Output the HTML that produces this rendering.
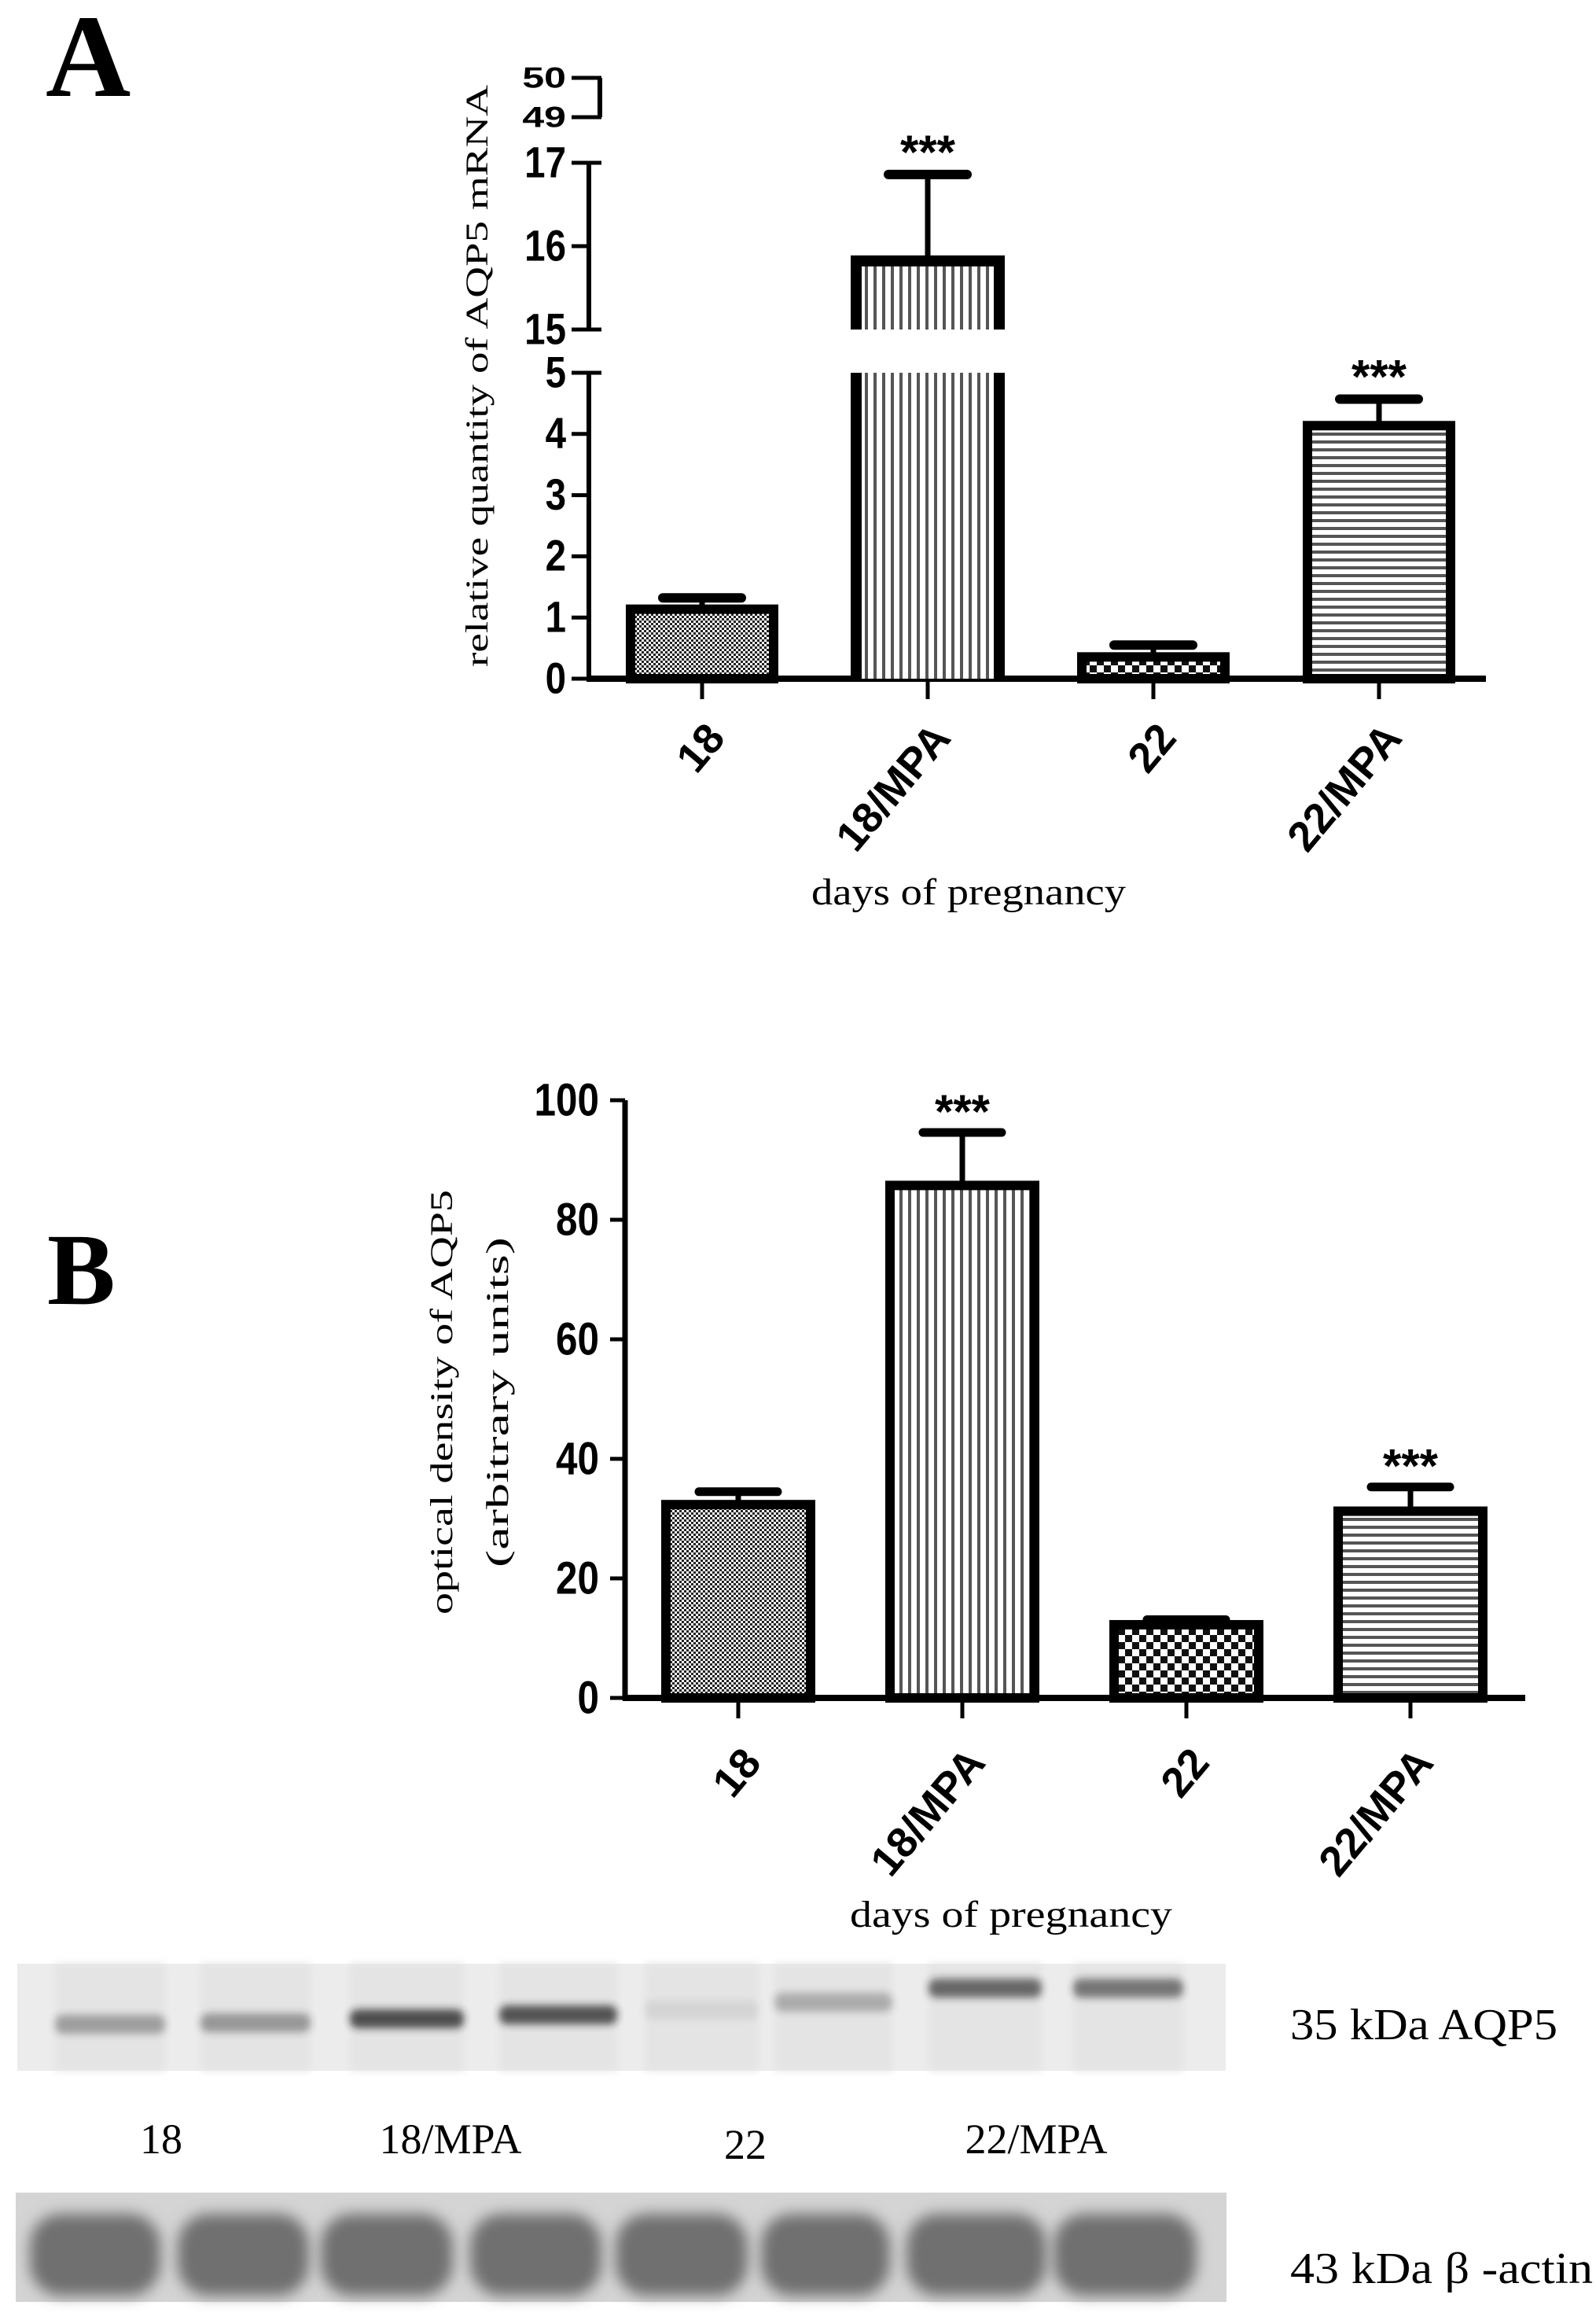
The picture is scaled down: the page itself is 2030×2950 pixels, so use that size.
<!DOCTYPE html>
<html><head><meta charset="utf-8"><style>
html,body{margin:0;padding:0;background:#fff}
svg{display:block}
</style></head><body>
<svg id="fig" width="2030" height="2950" viewBox="0 0 2030 2950" xmlns="http://www.w3.org/2000/svg">
<defs>
<pattern id="pFine" width="6" height="6" patternUnits="userSpaceOnUse"><rect width="6" height="6" fill="#fff"/><rect width="3" height="3" fill="#222"/><rect x="3" y="3" width="3" height="3" fill="#222"/></pattern>
<pattern id="pVert" width="11" height="10" patternUnits="userSpaceOnUse"><rect width="11" height="10" fill="#fff"/><rect width="4" height="10" fill="#555"/></pattern>
<pattern id="pCheck" width="18" height="18" patternUnits="userSpaceOnUse"><rect width="18" height="18" fill="#fff"/><rect width="9" height="9" fill="#111"/><rect x="9" y="9" width="9" height="9" fill="#111"/></pattern>
<pattern id="pHorz" width="10" height="10" patternUnits="userSpaceOnUse"><rect width="10" height="10" fill="#fff"/><rect width="10" height="4" fill="#555"/></pattern>
<filter id="blur4" x="-20%" y="-50%" width="140%" height="200%"><feGaussianBlur stdDeviation="5"/></filter>
<filter id="blur8" x="-20%" y="-30%" width="140%" height="160%"><feGaussianBlur stdDeviation="9"/></filter>
</defs>
<text x="58" y="122" font-family="Liberation Serif, serif" font-weight="bold" font-size="150">A</text>
<text x="60" y="1658" font-family="Liberation Serif, serif" font-weight="bold" font-size="130">B</text>
<g id="chartA"></g>
<g id="chartB"></g>
<g id="blot"></g>
</svg>
<script>
const categories = ["18", "18/MPA", "22", "22/MPA"];
const mrnaValues = [1.2, 15.87, 0.42, 4.2];
const mrnaErrors = [1.32, 16.86, 0.55, 4.57];
const mrnaSig = ["", "***", "", "***"];
const mrnaLowTicks = [0, 1, 2, 3, 4, 5];
const mrnaMidTicks = [15, 16, 17];
const mrnaHighTicks = [49, 50];
const odValues = [33, 86.4, 12.9, 31.9];
const odErrors = [34.5, 94.6, 13.1, 35.3];
const odSig = ["", "***", "", "***"];
const odTicks = [0, 20, 40, 60, 80, 100];

const NS = "http://www.w3.org/2000/svg";
function mk(parent, tag, attrs, text) {
  const e = document.createElementNS(NS, tag);
  for (const k in attrs) e.setAttribute(k, attrs[k]);
  if (text !== undefined) e.textContent = text;
  parent.appendChild(e);
  return e;
}
const patterns = ["url(#pFine)", "url(#pVert)", "url(#pCheck)", "url(#pHorz)"];
const numFont = "Liberation Sans, Arial, sans-serif";
const serif = "Liberation Serif, serif";

/* ---------- Chart A (broken axis) ---------- */
(function () {
  const g = document.getElementById("chartA");
  const ax = 749, base = 863;
  const segLow = { v0: 0, v1: 5, y0: 863, y1: 474 };
  const segMid = { v0: 15, v1: 17, y0: 419, y1: 207 };
  const segHigh = { v0: 49, v1: 50, y0: 149, y1: 99 };
  const lin = (s, v) => s.y0 + (v - s.v0) * (s.y1 - s.y0) / (s.v1 - s.v0);
  function yA(v) {
    if (v <= 5) return lin(segLow, v);
    if (v <= 17) return lin(segMid, Math.max(v, 15));
    return lin(segHigh, v);
  }
  const x0 = 795, step = 287, bw = 196;
  const xc = i => x0 + bw / 2 + i * step;
  let e;
  e = mk(g, "line", { x1: ax, y1: lin(segLow, 5), x2: ax, y2: base + 3, stroke: "#000", "stroke-width": 6 });
  
  
  e = mk(g, "line", { x1: ax, y1: lin(segMid, 17), x2: ax, y2: lin(segMid, 15), stroke: "#000", "stroke-width": 6 });
  
  
  e = mk(g, "line", { x1: ax + 14, y1: lin(segHigh, 50), x2: ax + 14, y2: lin(segHigh, 49), stroke: "#000", "stroke-width": 6 });
  
  
  e = mk(g, "line", { x1: ax - 3, y1: base, x2: 1890, y2: base, stroke: "#000", "stroke-width": 8 });
  
  
  function tick(v, s, right, squish) {
    const y = lin(s, v);
    const t = mk(g, "line", { x1: 727, y1: y, x2: right, y2: y, stroke: "#000", "stroke-width": 5 });
    
    
    const tr = squish ? `translate(720 ${y}) scale(1 0.75) translate(-720 ${-y})` : `translate(720 ${y}) scale(0.95 1.12) translate(-720 ${-y})`;
    const lab = mk(g, "text", { x: 720, y: y, "font-family": numFont, "font-weight": "bold", "font-size": 50, "text-anchor": "end", "dominant-baseline": "central", transform: tr }, String(v));
    
    
  }
  mrnaLowTicks.forEach(v => tick(v, segLow, v === 5 ? 765 : ax, false));
  mrnaMidTicks.forEach(v => tick(v, segMid, v === 16 ? ax : 765, false));
  mrnaHighTicks.forEach(v => tick(v, segHigh, 765, true));
  categories.forEach((c, i) => {
    const xl = x0 + i * step;
    const v = mrnaValues[i];
    const yt = yA(v);
    if (v > 5) {
      let r = mk(g, "rect", { x: xl + 7, y: lin(segLow, 5), width: bw - 14, height: base - lin(segLow, 5), fill: patterns[i] });
      
      
      mk(g, "line", { x1: xl + 7, y1: lin(segLow, 5), x2: xl + 7, y2: base, stroke: "#000", "stroke-width": 14 });
      mk(g, "line", { x1: xl + bw - 7, y1: lin(segLow, 5), x2: xl + bw - 7, y2: base, stroke: "#000", "stroke-width": 14 });
      r = mk(g, "rect", { x: xl + 7, y: yt + 5, width: bw - 14, height: lin(segMid, 15) - yt - 5, fill: patterns[i] });
      
      
      mk(g, "path", { d: `M${xl + 7} ${lin(segMid, 15)} V${yt + 5} H${xl + bw - 7} V${lin(segMid, 15)}`, stroke: "#000", "stroke-width": 14, fill: "none", "stroke-linejoin": "miter" });
    } else {
      const r = mk(g, "rect", { x: xl + 7, y: yt + 5, width: bw - 14, height: base - yt - 5, fill: patterns[i], stroke: "#000", "stroke-width": 12 });
      
      
    }
    const ye = yA(mrnaErrors[i]);
    const el = mk(g, "line", { x1: xc(i), y1: ye, x2: xc(i), y2: yt, stroke: "#000", "stroke-width": 7 });
    
    
    const cap = mk(g, "line", { x1: xc(i) - 50, y1: ye, x2: xc(i) + 50, y2: ye, stroke: "#000", "stroke-width": 12, "stroke-linecap": "round" });
    
    
    if (mrnaSig[i]) {
      const s = mk(g, "text", { x: xc(i), y: ye - 8, "font-family": numFont, "font-weight": "bold", "font-size": 60, "text-anchor": "middle" }, mrnaSig[i]);
      
      
    }
    const tk = mk(g, "line", { x1: xc(i), y1: base, x2: xc(i), y2: base + 26, stroke: "#000", "stroke-width": 5 });
    
    
    const lx = xc(i) + 2;
    const lab = mk(g, "text", { x: lx, y: 915, "font-family": numFont, "font-weight": "bold", "font-size": 54, "text-anchor": "end", transform: `rotate(-50 ${lx} 915)`, "dominant-baseline": "hanging" }, c);
    
    
  });
  let t = mk(g, "text", { x: 1232, y: 1150, "font-family": serif, "font-size": 48, "text-anchor": "middle", textLength: 400, lengthAdjust: "spacingAndGlyphs" }, "days of pregnancy");
  
  
  t = mk(g, "text", { x: 620, y: 478, "font-family": serif, "font-size": 40, "text-anchor": "middle", transform: "rotate(-90 620 478)", textLength: 740, lengthAdjust: "spacingAndGlyphs" }, "relative quantity of AQP5 mRNA");
  
  
})();

/* ---------- Chart B ---------- */
(function () {
  const g = document.getElementById("chartB");
  const ax = 795, base = 2159, top = 1399;
  const yB = v => base + (top - base) * v / 100;
  const x0 = 840, step = 285, bw = 198;
  const xc = i => x0 + bw / 2 + i * step;
  let e = mk(g, "line", { x1: ax, y1: top, x2: ax, y2: base + 3, stroke: "#000", "stroke-width": 7 });
  
  
  e = mk(g, "line", { x1: ax - 3, y1: base, x2: 1940, y2: base, stroke: "#000", "stroke-width": 8 });
  
  
  odTicks.forEach(v => {
    const y = yB(v);
    const t = mk(g, "line", { x1: 776, y1: y, x2: ax, y2: y, stroke: "#000", "stroke-width": 5 });
    
    
    const lab = mk(g, "text", { x: 762, y: y, "font-family": numFont, "font-weight": "bold", "font-size": 52, "text-anchor": "end", "dominant-baseline": "central", transform: `translate(762 ${y}) scale(0.95 1.12) translate(-762 ${-y})` }, String(v));
    
    
  });
  categories.forEach((c, i) => {
    const xl = x0 + i * step;
    const yt = yB(odValues[i]);
    const r = mk(g, "rect", { x: xl + 7, y: yt + 5, width: bw - 14, height: base - yt - 5, fill: patterns[i], stroke: "#000", "stroke-width": 12 });
    
    
    const ye = yB(odErrors[i]);
    const el = mk(g, "line", { x1: xc(i), y1: ye, x2: xc(i), y2: yt, stroke: "#000", "stroke-width": 7 });
    
    
    const cap = mk(g, "line", { x1: xc(i) - 50, y1: ye, x2: xc(i) + 50, y2: ye, stroke: "#000", "stroke-width": 11, "stroke-linecap": "round" });
    
    
    if (odSig[i]) {
      const s = mk(g, "text", { x: xc(i), y: ye - 6, "font-family": numFont, "font-weight": "bold", "font-size": 60, "text-anchor": "middle" }, odSig[i]);
      
      
    }
    const tk = mk(g, "line", { x1: xc(i), y1: base, x2: xc(i), y2: base + 26, stroke: "#000", "stroke-width": 5 });
    
    
    const lx = xc(i) + 2;
    const lab = mk(g, "text", { x: lx, y: 2218, "font-family": numFont, "font-weight": "bold", "font-size": 54, "text-anchor": "end", transform: `rotate(-50 ${lx} 2218)`, "dominant-baseline": "hanging" }, c);
    
    
  });
  let t = mk(g, "text", { x: 1286, y: 2450, "font-family": serif, "font-size": 48, "text-anchor": "middle", textLength: 410, lengthAdjust: "spacingAndGlyphs" }, "days of pregnancy");
  
  
  t = mk(g, "text", { x: 575, y: 1783, "font-family": serif, "font-size": 40, "text-anchor": "middle", transform: "rotate(-90 575 1783)", textLength: 540, lengthAdjust: "spacingAndGlyphs" }, "optical density of AQP5");
  
  
  t = mk(g, "text", { x: 646, y: 1783, "font-family": serif, "font-size": 40, "text-anchor": "middle", transform: "rotate(-90 646 1783)", textLength: 420, lengthAdjust: "spacingAndGlyphs" }, "(arbitrary units)");
  
  
})();

/* ---------- Western blot ---------- */
(function () {
  const g = document.getElementById("blot");
  let r = mk(g, "rect", { x: 22, y: 2497, width: 1537, height: 136, fill: "#ececec" });
  
  
  const lanesTop = [[70, 210], [255, 395], [445, 590], [635, 785], [820, 965], [985, 1135], [1181, 1325], [1365, 1505]];
  const bandY = [2574, 2572, 2567, 2562, 2556, 2546, 2528, 2528];
  const bandOp = [0.35, 0.38, 0.75, 0.72, 0.08, 0.28, 0.62, 0.55];
  lanesTop.forEach((l, i) => {
    const lane = mk(g, "rect", { x: l[0], y: 2497, width: l[1] - l[0], height: 136, fill: "#e4e4e4", filter: "url(#blur4)" });
    
    
    const b = mk(g, "rect", { x: l[0], y: bandY[i] - 12, width: l[1] - l[0], height: 24, rx: 10, fill: "#1a1a1a", opacity: bandOp[i], filter: "url(#blur4)" });
    
    
  });
  r = mk(g, "rect", { x: 20, y: 2788, width: 1540, height: 139, fill: "#d4d4d4" });
  
  
  const lanesBot = [[38, 204], [226, 393], [408, 576], [598, 765], [783, 951], [968, 1132], [1153, 1331], [1340, 1522]];
  lanesBot.forEach(l => {
    const b = mk(g, "rect", { x: l[0], y: 2815, width: l[1] - l[0], height: 104, rx: 40, fill: "#707070", filter: "url(#blur8)" });
    
    
  });
  const labs = [["18", 205, 2738], ["18/MPA", 573, 2738], ["22", 948, 2745], ["22/MPA", 1318, 2738]];
  labs.forEach(a => {
    const t = mk(g, "text", { x: a[1], y: a[2], "font-family": serif, "font-size": 54, "text-anchor": "middle" }, a[0]);
    
    
  });
  let t = mk(g, "text", { x: 1641, y: 2593, "font-family": serif, "font-size": 56, textLength: 340, lengthAdjust: "spacingAndGlyphs" }, "35 kDa AQP5");
  
  
  t = mk(g, "text", { x: 1641, y: 2903, "font-family": serif, "font-size": 56, textLength: 385, lengthAdjust: "spacingAndGlyphs" }, "43 kDa β -actin");
  
  
})();
</script>
</body></html>
